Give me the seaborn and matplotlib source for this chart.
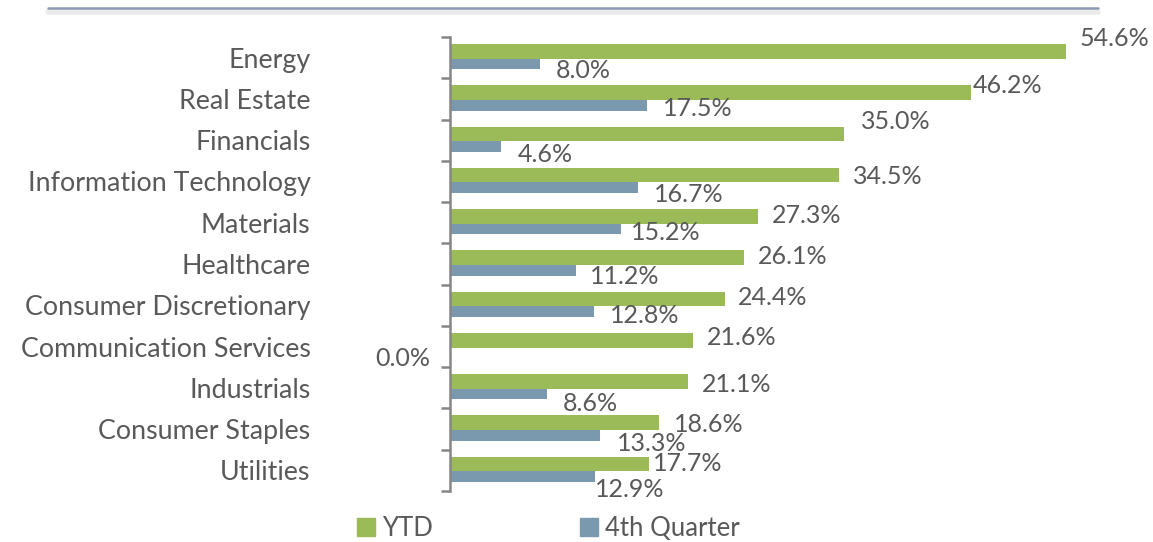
import numpy as np
import pandas as pd
import matplotlib
matplotlib.use("Agg")
import matplotlib.pyplot as plt
from matplotlib.lines import Line2D
import seaborn as sns

# ---- data ----
sectors = ["Energy", "Real Estate", "Financials", "Information Technology", "Materials",
           "Healthcare", "Consumer Discretionary", "Communication Services", "Industrials",
           "Consumer Staples", "Utilities"]
ytd = [54.6, 46.2, 35.0, 34.5, 27.3, 26.1, 24.4, 21.6, 21.1, 18.6, 17.7]
q4 = [8.0, 17.5, 4.6, 16.7, 15.2, 11.2, 12.8, 0.0, 8.6, 13.3, 12.9]
series_names = ["YTD", "4th Quarter"]

# ---- label placement (pixels, relative to bar end / category centre) ----
ytd_dx = [14, 2, 17, 14, 14, 14, 13, 14, 14, 15, 4]
ytd_dy = [-19.3, -13, -18.5, -4.9, -7.5, -7.2, -7.5, -9, -3.7, -4.3, -7.3]
q4_dx = [16, 16, 16, 16, 10, 14, 16, -19, 16, 17, 0]
q4_dy = [13.2, 9.7, 14.7, 12.8, 9.9, 12.2, 9.9, 12.3, 15.3, 14, 19.4]

GREEN = "#9BBB59"
BLUE = "#7A99AE"
TXT = "#595959"
AXC = "#868686"

sns.set_style("white")
plt.rcParams["font.family"] = ["Lato", "DejaVu Sans"]
FS_CAT = 19.3
FS_VAL = 18
FS_LEG = 18.5

df = pd.DataFrame({
    "Sector": sectors * 2,
    "Return": ytd + q4,
    "Series": [series_names[0]] * len(sectors) + [series_names[1]] * len(sectors),
})

W, H = 1153, 542
fig = plt.figure(figsize=(W / 100, H / 100), dpi=100)
ax = fig.add_axes([449.5 / W, 1 - 491 / H, (1126.5 - 449.5) / W, 454 / H])

sns.barplot(data=df, x="Return", y="Sector", hue="Series", orient="h",
            palette=[GREEN, BLUE], saturation=1, width=0.64, ax=ax, legend=False,
            order=sectors, hue_order=series_names)

# reshape the bars a little (green slightly taller than blue, like the reference)
for i, p in enumerate(ax.containers[0]):
    p.set_y(i - 0.33)
    p.set_height(0.355)
    p.set_edgecolor("none")
for i, p in enumerate(ax.containers[1]):
    p.set_y(i + 0.025)
    p.set_height(0.258)
    p.set_edgecolor("none")

ax.set_xlim(0, 60)
ax.set_ylim(len(sectors) - 0.5, -0.5)
ax.set_xlabel("")
ax.set_ylabel("")
ax.set_xticks([])
for s in ["top", "right", "bottom"]:
    ax.spines[s].set_visible(False)
ax.spines["left"].set_color(AXC)
ax.spines["left"].set_linewidth(1.8)

ax.set_yticks(range(len(sectors)))
ax.set_yticklabels(sectors, fontsize=FS_CAT, color=TXT)
ax.tick_params(axis="y", which="major", length=0, pad=100)
ax.set_yticks(np.arange(-0.5, len(sectors), 1.0), minor=True)
ax.tick_params(axis="y", which="minor", left=True, length=6.5, width=1.8, color=AXC,
               direction="out")

px = 0.72  # pixels -> points at 100 dpi
for i in range(len(sectors)):
    ax.annotate(f"{ytd[i]:.1f}%", xy=(ytd[i], i), xytext=(ytd_dx[i] * px, -ytd_dy[i] * px),
                textcoords="offset points", ha="left", va="center", fontsize=FS_VAL, color=TXT)
    ha = "right" if q4_dx[i] < 0 else "left"
    ax.annotate(f"{q4[i]:.1f}%", xy=(q4[i], i), xytext=(q4_dx[i] * px, -q4_dy[i] * px),
                textcoords="offset points", ha=ha, va="center", fontsize=FS_VAL, color=TXT)

# top rule with a soft shadow
fig.add_artist(Line2D([48 / W, 1098 / W], [1 - 11.5 / H, 1 - 11.5 / H], color="#EBEBEB", lw=4))
fig.add_artist(Line2D([48 / W, 1098 / W], [1 - 8 / H, 1 - 8 / H], color="#8C9BB3", lw=1.8))

handles = [Line2D([], [], marker="s", ls="none", markersize=13.5, color=GREEN, label=series_names[0]),
           Line2D([], [], marker="s", ls="none", markersize=13.5, color=BLUE, label=series_names[1])]
fig.legend(handles=handles, loc="lower left", bbox_to_anchor=(354 / W, 0.002), ncol=2,
           frameon=False, fontsize=FS_LEG, labelcolor=TXT, handlelength=0.9, handletextpad=0.2,
           columnspacing=5.6, borderaxespad=0, borderpad=0)

fig.savefig("out.png", dpi=100)
